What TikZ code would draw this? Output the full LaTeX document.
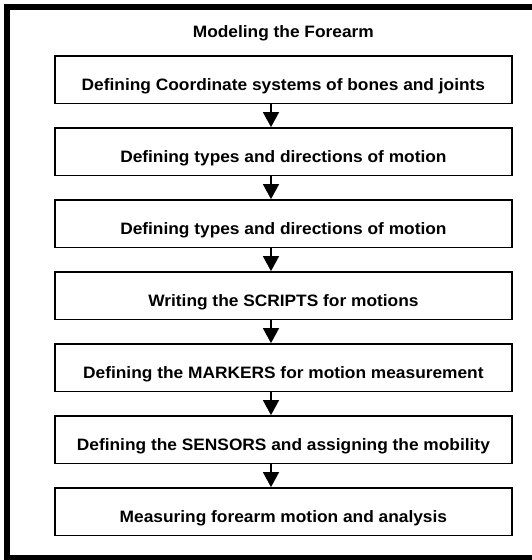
\documentclass[tikz,border=0pt]{standalone}
\usepackage{fontspec}
\setmainfont{Liberation Sans}[FakeStretch=1.05]
\usetikzlibrary{arrows.meta}
\tikzset{
  stepbox/.style={draw=black, line width=1.8pt, fill=white, minimum width=456.5pt, minimum height=47.5pt,
    inner sep=0pt, text height=20.5pt, text depth=0pt, font=\fontsize{16.5}{19}\selectfont\bfseries},
  arr/.style={line width=1.5pt, -{Triangle[width=16pt,length=15pt]}},
  titletext/.style={font=\fontsize{16.5}{19}\selectfont\bfseries, inner sep=0pt, anchor=base}
}
\begin{document}
\begin{tikzpicture}[x=1pt,y=-1pt]
\useasboundingbox (0,0) rectangle (532,560);
\begin{scope}
\clip (0,0) rectangle (532,560);
\draw[line width=5.5pt] (6.75,7) rectangle (545,557.5);
\end{scope}
\node[titletext] (title) at (283.3,37.7) {Modeling the Forearm};
\node[stepbox] (b1) at (283.4,79.75) {Defining Coordinate systems of bones and joints};
\node[stepbox] (b2) at (283.4,151.75) {Defining types and directions of motion};
\node[stepbox] (b3) at (283.4,223.75) {Defining types and directions of motion};
\node[stepbox] (b4) at (283.4,295.75) {Writing the SCRIPTS for motions};
\node[stepbox] (b5) at (283.4,367.75) {Defining the MARKERS for motion measurement};
\node[stepbox] (b6) at (283.4,439.75) {Defining the SENSORS and assigning the mobility};
\node[stepbox] (b7) at (283.4,511.75) {Measuring forearm motion and analysis};
\coordinate (ax) at (271,0);
\foreach \a/\b in {b1/b2,b2/b3,b3/b4,b4/b5,b5/b6,b6/b7}{
  \draw[arr] (\a.south -| ax) -- (\b.north -| ax);
}
\end{tikzpicture}
\end{document}
